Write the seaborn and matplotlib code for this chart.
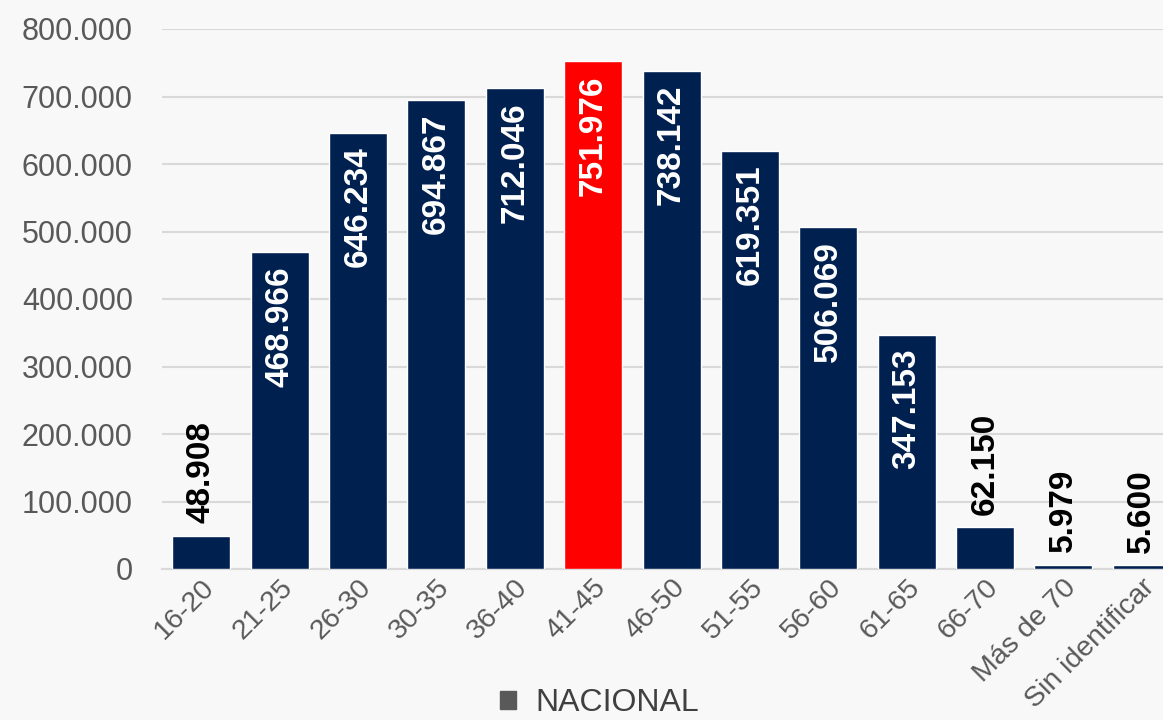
import matplotlib
matplotlib.use("Agg")
import matplotlib.pyplot as plt
import seaborn as sns
from matplotlib.patches import Patch
from matplotlib.ticker import FuncFormatter

categories = ["16-20", "21-25", "26-30", "30-35", "36-40", "41-45", "46-50",
              "51-55", "56-60", "61-65", "66-70", "Más de 70", "Sin identificar"]
values = [48908, 468966, 646234, 694867, 712046, 751976, 738142,
          619351, 506069, 347153, 62150, 5979, 5600]
highlight = "41-45"
legend_label = "NACIONAL"

navy = "#002050"
red = "#ff0000"
bg = "#f8f8f8"

sns.set_theme(style="white")
plt.rcParams['font.family'] = ['Liberation Sans', 'DejaVu Sans']

fig = plt.figure(figsize=(11.63, 7.2), dpi=100, facecolor=bg)
ax = fig.add_axes([162 / 1163, 1 - 569 / 720, 1 - 162 / 1163, 540 / 720])
ax.set_facecolor(bg)

colors = {c: (red if c == highlight else navy) for c in categories}
sns.barplot(x=categories, y=values, hue=categories, palette=colors, legend=False,
            width=0.74, saturation=1, ax=ax, zorder=3)

ax.set_ylim(0, 800000)
ax.set_xlim(-0.5, 12.27)
ax.set_yticks(range(0, 800001, 100000))
ax.yaxis.set_major_formatter(FuncFormatter(lambda x, p: f"{int(x):,}".replace(",", ".")))
ax.grid(True, axis='y', color='#d9d9d9', linewidth=1.5, zorder=0)
ax.set_axisbelow(True)
for s in ["left", "right", "top"]:
    ax.spines[s].set_visible(False)
ax.spines["bottom"].set_color('#d9d9d9')
ax.spines["bottom"].set_linewidth(1.5)
ax.tick_params(axis='y', length=0, pad=21, labelsize=22, labelcolor='#595959')
ax.tick_params(axis='x', length=0, pad=4, labelsize=20.5, labelcolor='#595959')
plt.setp(ax.get_xticklabels(), rotation=45, ha='right', rotation_mode='anchor')

for i, v in enumerate(values):
    label = f"{v:,}".replace(",", ".")
    if v > 300000:
        ax.annotate(label, xy=(i, v), xytext=(0, -10), textcoords='offset points',
                    rotation=90, ha='center', va='top', color='white',
                    fontsize=24, fontweight='bold', zorder=4)
    else:
        ax.annotate(label, xy=(i, v), xytext=(0, 9), textcoords='offset points',
                    rotation=90, ha='center', va='bottom', color='black',
                    fontsize=24, fontweight='bold', zorder=4)

fig.legend(handles=[Patch(color='#595959')], labels=[legend_label],
           loc='upper left', bbox_to_anchor=(500 / 1163, 1 - 688 / 720),
           frameon=False, fontsize=23, labelcolor='#404040',
           handlelength=0.5, handleheight=0.5, handletextpad=0.6,
           borderpad=0, borderaxespad=0)

fig.savefig("out.png", dpi=100, facecolor=bg)
